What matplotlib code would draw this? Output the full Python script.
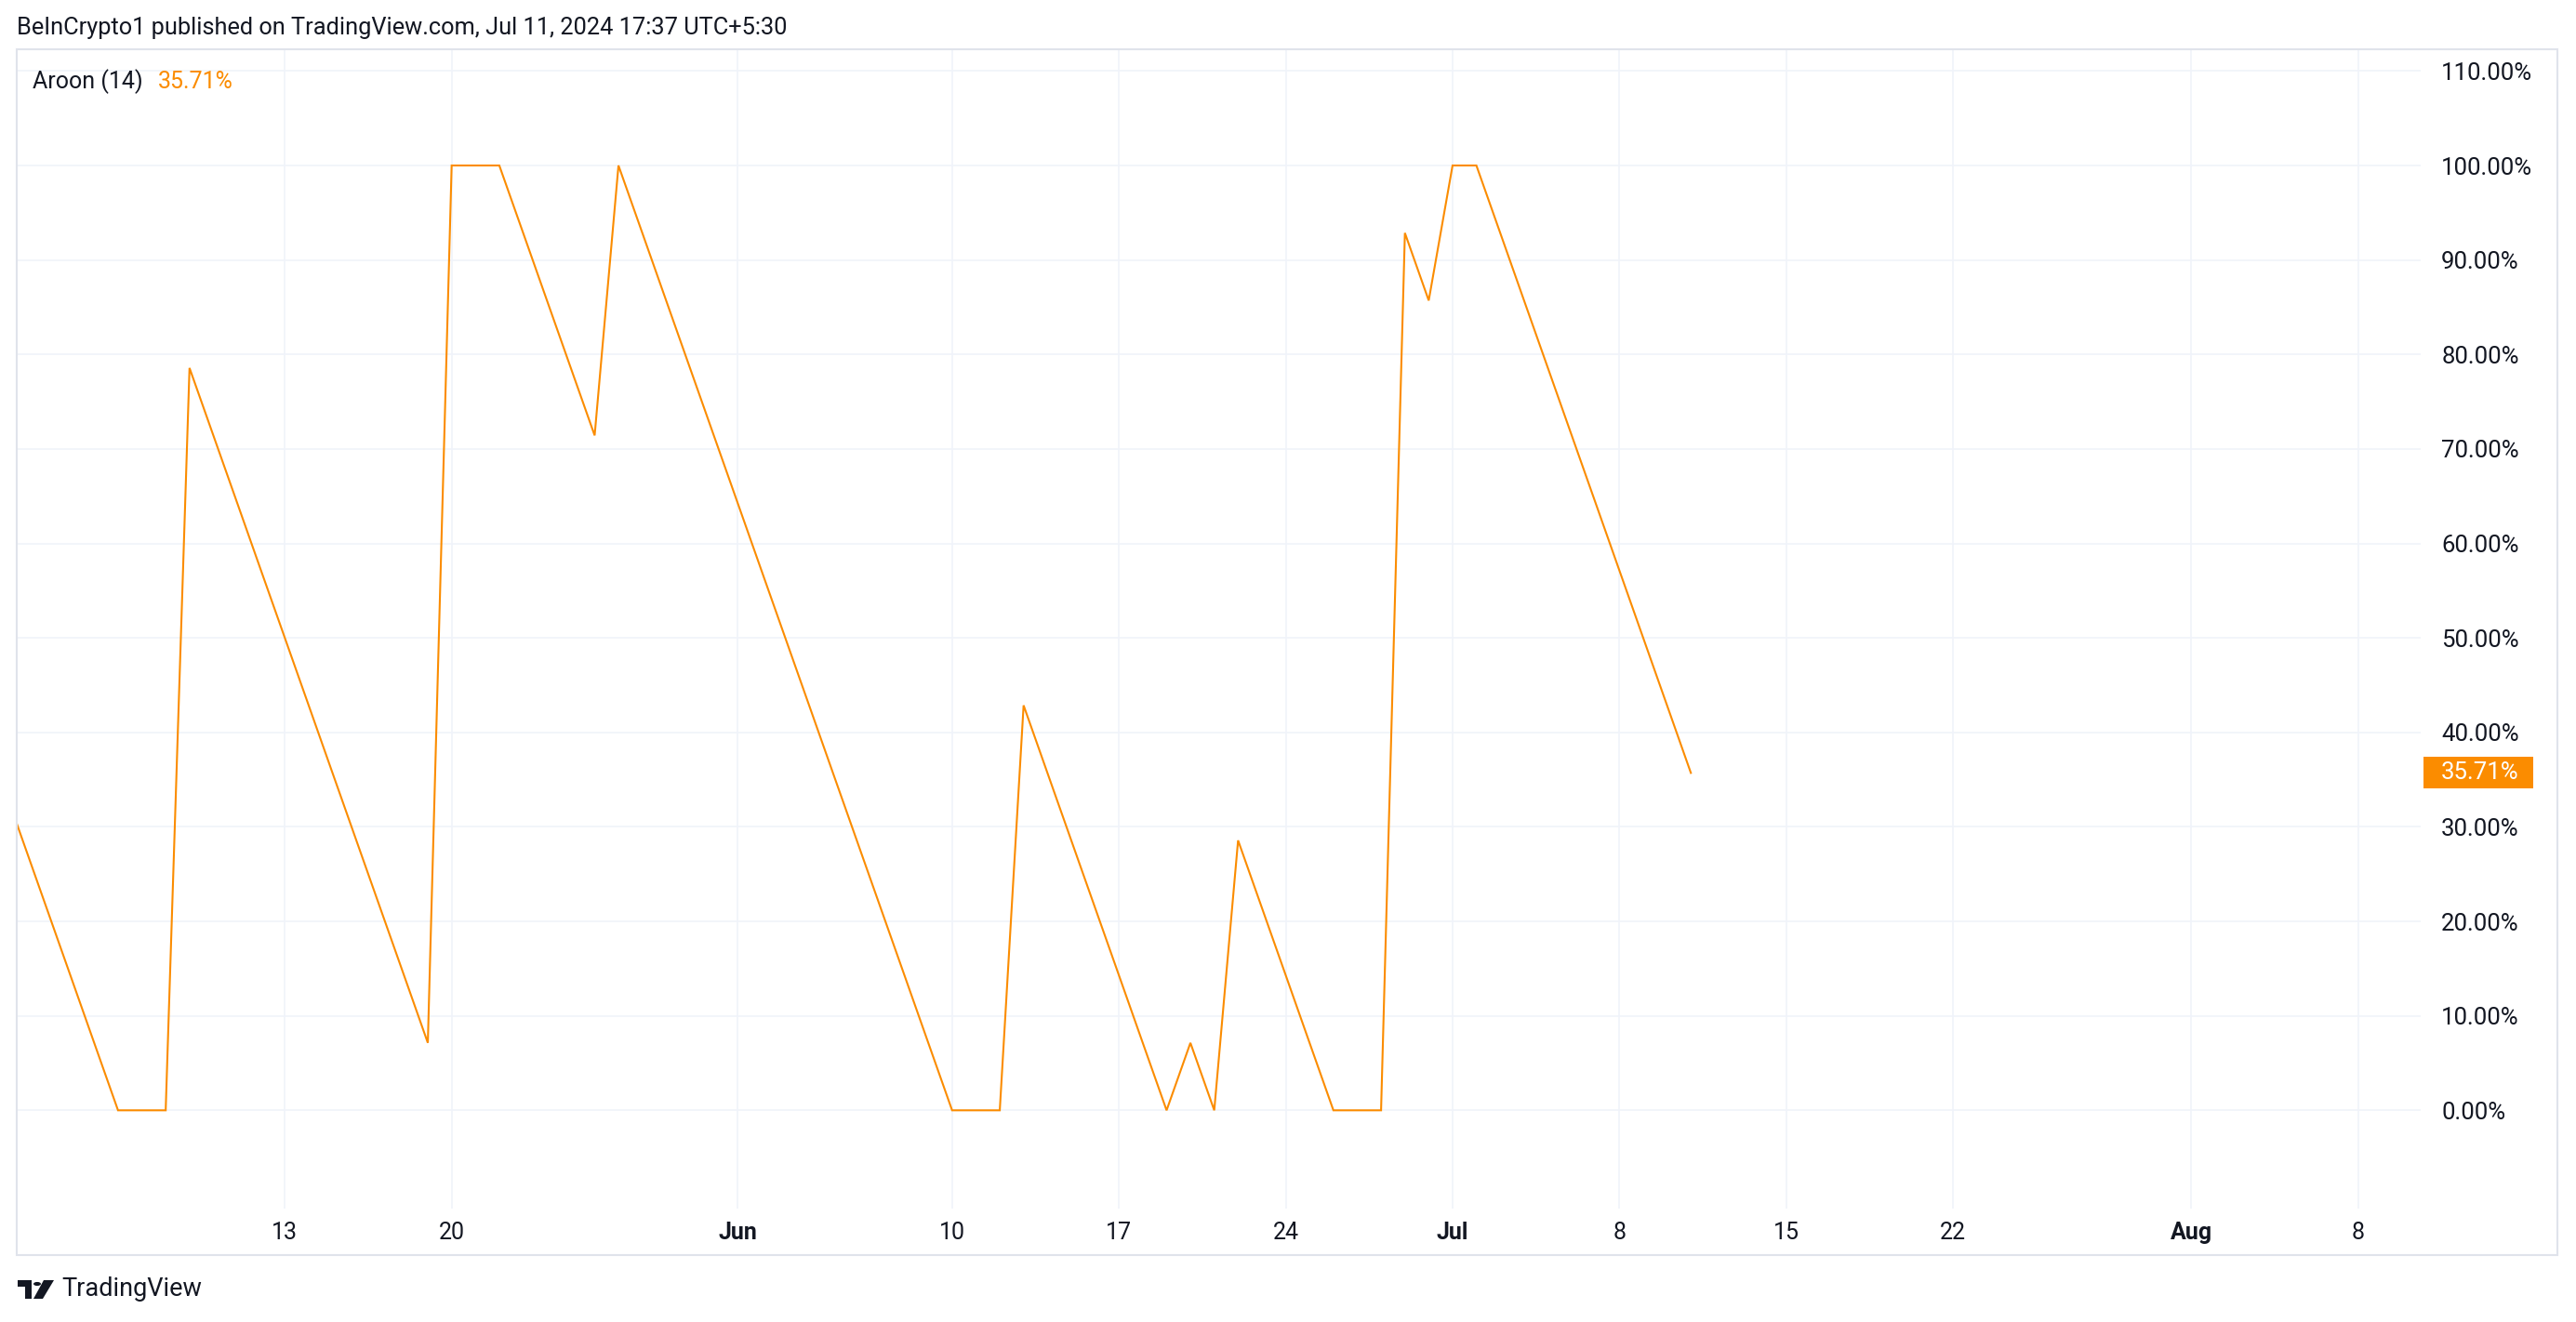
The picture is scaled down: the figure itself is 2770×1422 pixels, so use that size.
import numpy as np
import pandas as pd
import matplotlib
matplotlib.use("Agg")
import matplotlib.pyplot as plt
import matplotlib.dates as mdates
from matplotlib.patches import Rectangle, Circle, Polygon
from matplotlib.transforms import blended_transform_factory

W, H = 2770, 1422

# daily Aroon (14) up values, May 1 .. Jul 11 2024
START = "2024-05-01"
aroon = [35.71, 28.57, 21.43, 14.29, 7.14, 0, 0, 0, 78.57, 71.43,
         64.29, 57.14, 50.00, 42.86, 35.71, 28.57, 21.43, 14.29, 7.14, 100,
         100, 100, 92.86, 85.71, 78.57, 71.43, 100, 92.86, 85.71, 78.57,
         71.43, 64.29, 57.14, 50.00, 42.86, 35.71, 28.57, 21.43, 14.29, 7.14,
         0, 0, 0, 42.86, 35.71, 28.57, 21.43, 14.29, 7.14, 0,
         7.14, 0, 28.57, 21.43, 14.29, 7.14, 0, 0, 0, 92.86,
         85.71, 100, 100, 92.86, 85.71, 78.57, 71.43, 64.29, 57.14, 50.00,
         42.86, 35.71]
dates = pd.date_range(START, periods=len(aroon), freq="D")

tick_dates = ["2024-05-13", "2024-05-20", "2024-06-01", "2024-06-10", "2024-06-17",
              "2024-06-24", "2024-07-01", "2024-07-08", "2024-07-15", "2024-07-22",
              "2024-08-01", "2024-08-08"]
tick_labels = ["13", "20", "Jun", "10", "17", "24", "Jul", "8", "15", "22", "Aug", "8"]
month_labels = ["Jun", "Jul", "Aug"]
y_ticks = list(range(0, 111, 10))

ORANGE = "#FB8C00"
TEXT = "#131722"
GRID = "#F0F3FA"
BORDER = "#E0E3EB"
plt.rcParams["font.family"] = ["Roboto", "DejaVu Sans"]

fig = plt.figure(figsize=(W / 100, H / 100), dpi=100)
fig.patch.set_facecolor("white")


def px(x, y):
    return (x / W, 1 - y / H)


# pane: left 18, right 2603, top 53, bottom 1300 (pixels)
L, R, T, B = 18, 2603, 53, 1300
ax = fig.add_axes([L / W, 1 - B / H, (R - L) / W, (B - T) / H])

ax.plot(dates, aroon, color=ORANGE, lw=1.5, solid_joinstyle="miter")

ax.set_xlim(pd.Timestamp("2024-05-01 18:00"), pd.Timestamp("2024-08-10 15:00"))
ax.set_ylim(-10.4, 112.3)

ax.set_xticks(pd.to_datetime(tick_dates))
ax.set_xticklabels(tick_labels)
for lab in ax.get_xticklabels():
    if lab.get_text() in month_labels:
        lab.set_fontweight("bold")
ax.set_yticks(y_ticks)
ax.set_yticklabels([f"{v:.2f}%" for v in y_ticks])
ax.yaxis.tick_right()
ax.tick_params(axis="y", length=0, pad=16, labelsize=18.5, labelcolor=TEXT)
ax.tick_params(axis="x", length=0, pad=10, labelsize=18, labelcolor=TEXT)
for lab in ax.get_yticklabels():
    lab.set_horizontalalignment("left")

ax.grid(True, color=GRID, lw=1.2)
ax.set_axisbelow(True)
for s in ax.spines.values():
    s.set_visible(False)

# outer border of the chart
fig.add_artist(Rectangle(px(18, 1350), (2750 - 18) / W, (1350 - 53) / H,
                         transform=fig.transFigure, fill=False, ec=BORDER, lw=1.5))

# last value label on the price scale
last = aroon[-1]
bt = blended_transform_factory(fig.transFigure, ax.transData)
box_h = 34 / ((B - T) / (112.3 + 10.4))
ax.add_patch(Rectangle((2606 / W, last - box_h / 2), 118 / W, box_h, transform=bt,
                       fc=ORANGE, ec="none", clip_on=False, zorder=5))
ax.text(2625 / W, last, f"{last:.2f}%", transform=bt, color="white", fontsize=18.5,
        va="center", ha="left", zorder=6, clip_on=False)

# header and legend
fig.text(*px(18, 30), "BeInCrypto1 published on TradingView.com, Jul 11, 2024 17:37 UTC+5:30",
         fontsize=18.3, color=TEXT, va="center", ha="left")
fig.text(*px(35, 88), "Aroon (14)", fontsize=18, color=TEXT, va="center", ha="left")
fig.text(*px(170, 88), f"{last:.2f}%", fontsize=18, color=ORANGE, va="center", ha="left")

# TradingView logo
logo = dict(transform=fig.transFigure, fc=TEXT, ec="none")
fig.add_artist(Rectangle(px(19, 1384), 15 / W, 7 / H, **logo))
fig.add_artist(Rectangle(px(27, 1397), 7 / W, 20 / H, **logo))
fig.add_artist(Circle(px(40, 1381), 4 / W, **logo))
fig.add_artist(Polygon([px(47, 1377), px(58, 1377), px(46, 1397), px(36, 1397)], **logo))
fig.text(*px(66, 1387), "TradingView", fontsize=19.5, color=TEXT, va="center", ha="left")

fig.savefig("out.png", dpi=100, facecolor="white")
